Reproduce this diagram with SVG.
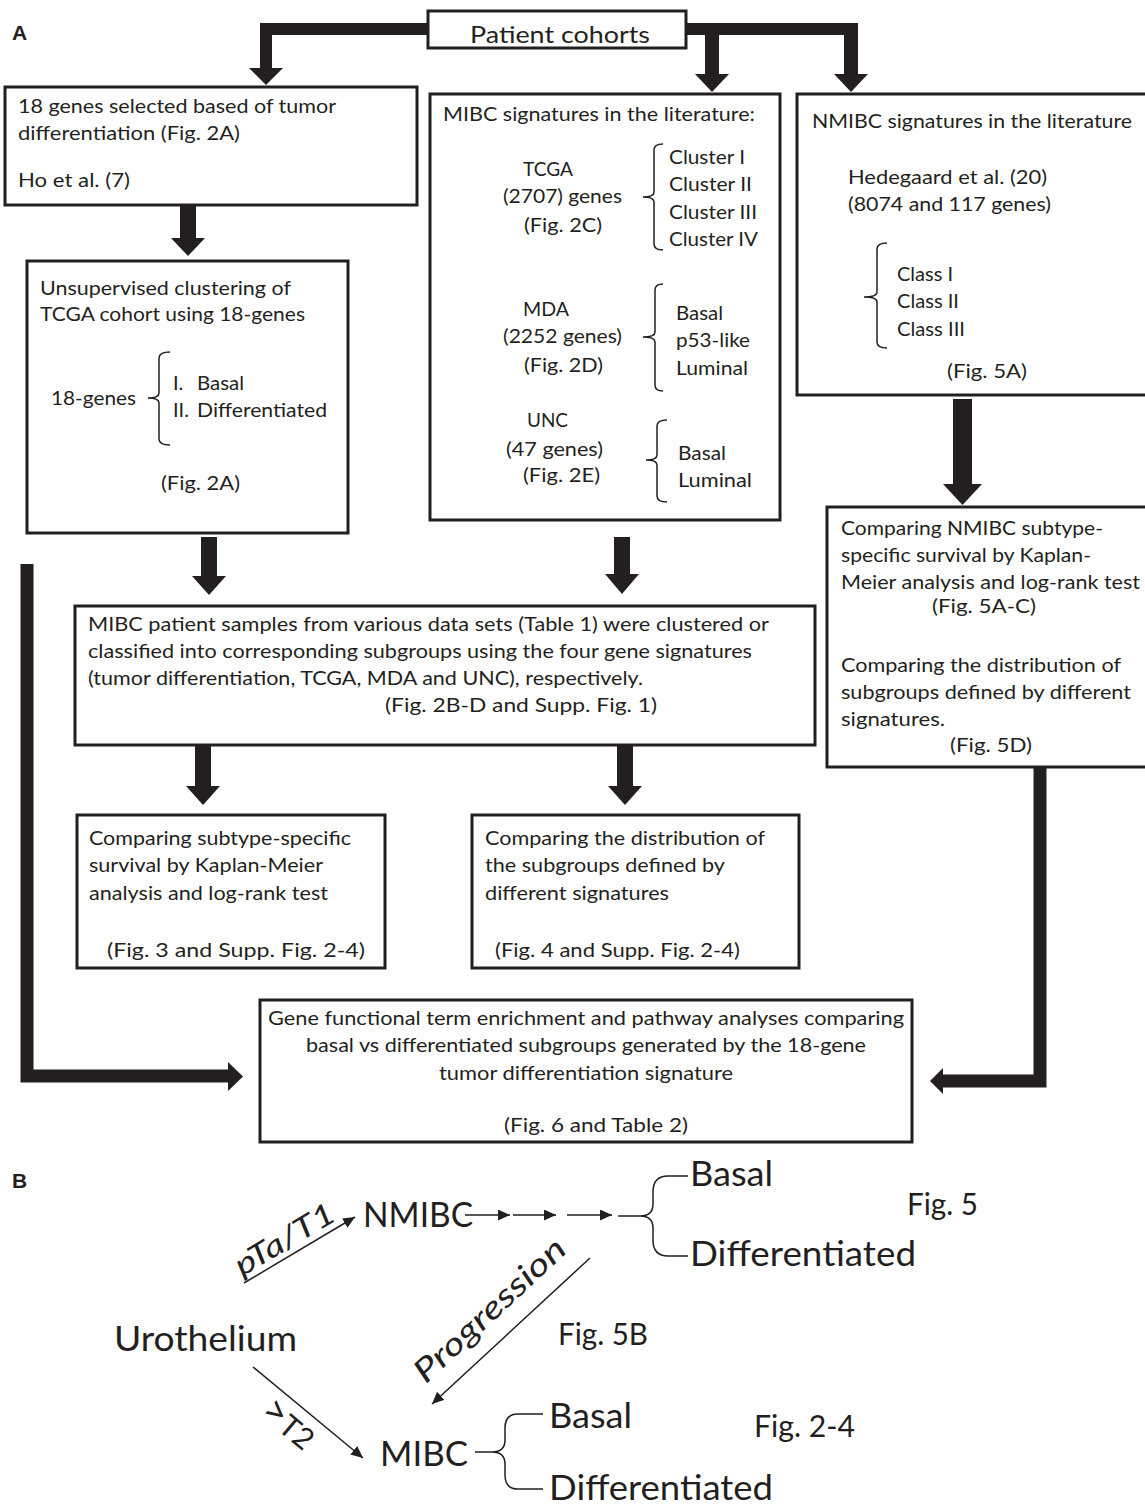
<svg xmlns="http://www.w3.org/2000/svg" width="1145" height="1507" viewBox="0 0 1145 1507">
<defs>
<style>
.t{font-family:Lato,'Open Sans','Liberation Sans',sans-serif;font-size:20px;fill:#231f20}
.big{font-size:34px}
.mid{font-size:30px}
.it{font-style:italic}
.lab{font-family:'Liberation Sans',Arial,sans-serif;font-weight:bold;font-size:21px;fill:#231f20}
.box{fill:#fff;stroke:#231f20;stroke-width:3}
.br{fill:none;stroke:#231f20;stroke-width:1.5}
.bar{fill:none;stroke:#231f20;stroke-linejoin:miter}
.head{fill:#231f20}
.thin{fill:none;stroke:#231f20;stroke-width:1.5}
</style>
<marker id="ah" viewBox="0 0 12 11" refX="12" refY="5.5" markerWidth="12" markerHeight="11" markerUnits="userSpaceOnUse" orient="auto">
<path d="M0,0 L12,5.5 L0,11 z" fill="#231f20"/>
</marker>
</defs>
<rect width="1145" height="1507" fill="#fff"/>
<text class="lab" x="12" y="40">A</text>
<text class="lab" x="12" y="1188">B</text>

<g id="cohorts">
<rect class="box" x="428" y="11" width="258" height="37"/>
<text class="t" style="font-size:24px" x="470" y="43" textLength="180" lengthAdjust="spacingAndGlyphs">Patient cohorts</text>
</g>

<g id="ho18">
<rect class="box" x="5" y="87" width="412" height="118"/>
<text class="t" x="18" y="113" textLength="318" lengthAdjust="spacingAndGlyphs">18 genes selected based of tumor</text>
<text class="t" x="18" y="140" textLength="222" lengthAdjust="spacingAndGlyphs">differentiation (Fig. 2A)</text>
<text class="t" x="18" y="187" textLength="112" lengthAdjust="spacingAndGlyphs">Ho et al. (7)</text>
</g>

<g id="unsup">
<rect class="box" x="27" y="261" width="321" height="272"/>
<text class="t" x="40" y="295" textLength="251" lengthAdjust="spacingAndGlyphs">Unsupervised clustering of</text>
<text class="t" x="40" y="321" textLength="265" lengthAdjust="spacingAndGlyphs">TCGA cohort using 18-genes</text>
<text class="t" x="51" y="405" textLength="85" lengthAdjust="spacingAndGlyphs">18-genes</text>
<path class="br" d="M170 352 Q159 352 159 358 L159 393 Q159 398 148 398 Q159 398 159 403 L159 439 Q159 445 170 445"/>
<text class="t" x="173" y="390">I.</text>
<text class="t" x="197" y="390" textLength="47" lengthAdjust="spacingAndGlyphs">Basal</text>
<text class="t" x="173" y="417">II.</text>
<text class="t" x="197" y="417" textLength="130" lengthAdjust="spacingAndGlyphs">Differentiated</text>
<text class="t" x="161" y="490" textLength="79" lengthAdjust="spacingAndGlyphs">(Fig. 2A)</text>
</g>

<g id="mibc-lit">
<rect class="box" x="430" y="94" width="350" height="426"/>
<text class="t" x="443" y="121" textLength="312" lengthAdjust="spacingAndGlyphs">MIBC signatures in the literature:</text>
<text class="t" x="523" y="176" textLength="50" lengthAdjust="spacingAndGlyphs">TCGA</text>
<text class="t" x="503" y="203" textLength="119" lengthAdjust="spacingAndGlyphs">(2707) genes</text>
<text class="t" x="524" y="232" textLength="78" lengthAdjust="spacingAndGlyphs">(Fig. 2C)</text>
<path class="br" d="M663 144 Q654 144 654 150 L654 192 Q654 197 643 197 Q654 197 654 202 L654 244 Q654 250 663 250"/>
<text class="t" x="669" y="164" textLength="76" lengthAdjust="spacingAndGlyphs">Cluster I</text>
<text class="t" x="669" y="191" textLength="83" lengthAdjust="spacingAndGlyphs">Cluster II</text>
<text class="t" x="669" y="219" textLength="88" lengthAdjust="spacingAndGlyphs">Cluster III</text>
<text class="t" x="669" y="246" textLength="89" lengthAdjust="spacingAndGlyphs">Cluster IV</text>
<text class="t" x="523" y="316" textLength="46" lengthAdjust="spacingAndGlyphs">MDA</text>
<text class="t" x="503" y="343" textLength="119" lengthAdjust="spacingAndGlyphs">(2252 genes)</text>
<text class="t" x="524" y="372" textLength="79" lengthAdjust="spacingAndGlyphs">(Fig. 2D)</text>
<path class="br" d="M663 284 Q655 284 655 290 L655 332 Q655 337 643 337 Q655 337 655 342 L655 385 Q655 391 663 391"/>
<text class="t" x="676" y="320" textLength="47" lengthAdjust="spacingAndGlyphs">Basal</text>
<text class="t" x="676" y="347" textLength="74" lengthAdjust="spacingAndGlyphs">p53-like</text>
<text class="t" x="676" y="375" textLength="72" lengthAdjust="spacingAndGlyphs">Luminal</text>
<text class="t" x="527" y="427" textLength="41" lengthAdjust="spacingAndGlyphs">UNC</text>
<text class="t" x="506" y="456" textLength="97" lengthAdjust="spacingAndGlyphs">(47 genes)</text>
<text class="t" x="523" y="482" textLength="77" lengthAdjust="spacingAndGlyphs">(Fig. 2E)</text>
<path class="br" d="M667 420 Q657 420 657 426 L657 455 Q657 460 646 460 Q657 460 657 465 L657 496 Q657 502 667 502"/>
<text class="t" x="678" y="460" textLength="48" lengthAdjust="spacingAndGlyphs">Basal</text>
<text class="t" x="678" y="487" textLength="74" lengthAdjust="spacingAndGlyphs">Luminal</text>
</g>

<g id="nmibc-lit">
<rect class="box" x="797" y="94" width="360" height="301"/>
<text class="t" x="812" y="128" textLength="320" lengthAdjust="spacingAndGlyphs">NMIBC signatures in the literature</text>
<text class="t" x="848" y="184" textLength="199" lengthAdjust="spacingAndGlyphs">Hedegaard et al. (20)</text>
<text class="t" x="848" y="211" textLength="203" lengthAdjust="spacingAndGlyphs">(8074 and 117 genes)</text>
<path class="br" d="M887 243 Q877 243 877 249 L877 292 Q877 297 864 297 Q877 297 877 302 L877 342 Q877 348 887 348"/>
<text class="t" x="897" y="281" textLength="56" lengthAdjust="spacingAndGlyphs">Class I</text>
<text class="t" x="897" y="308" textLength="62" lengthAdjust="spacingAndGlyphs">Class II</text>
<text class="t" x="897" y="336" textLength="68" lengthAdjust="spacingAndGlyphs">Class III</text>
<text class="t" x="947" y="378" textLength="80" lengthAdjust="spacingAndGlyphs">(Fig. 5A)</text>
</g>

<g id="nmibc-compare">
<rect class="box" x="827" y="507" width="330" height="260"/>
<text class="t" x="841" y="535" textLength="262" lengthAdjust="spacingAndGlyphs">Comparing NMIBC subtype-</text>
<text class="t" x="841" y="562" textLength="250" lengthAdjust="spacingAndGlyphs">specific survival by Kaplan-</text>
<text class="t" x="841" y="589" textLength="299" lengthAdjust="spacingAndGlyphs">Meier analysis and log-rank test</text>
<text class="t" x="932" y="613" textLength="104" lengthAdjust="spacingAndGlyphs">(Fig. 5A-C)</text>
<text class="t" x="841" y="672" textLength="280" lengthAdjust="spacingAndGlyphs">Comparing the distribution of</text>
<text class="t" x="841" y="699" textLength="290" lengthAdjust="spacingAndGlyphs">subgroups defined by different</text>
<text class="t" x="841" y="726" textLength="104" lengthAdjust="spacingAndGlyphs">signatures.</text>
<text class="t" x="950" y="752" textLength="82" lengthAdjust="spacingAndGlyphs">(Fig. 5D)</text>
</g>

<g id="mibc-samples">
<rect class="box" x="75" y="606" width="740" height="139"/>
<text class="t" x="88" y="631" textLength="681" lengthAdjust="spacingAndGlyphs">MIBC patient samples from various data sets (Table 1) were clustered or</text>
<text class="t" x="88" y="658" textLength="664" lengthAdjust="spacingAndGlyphs">classified into corresponding subgroups using the four gene signatures</text>
<text class="t" x="88" y="685" textLength="555" lengthAdjust="spacingAndGlyphs">(tumor differentiation, TCGA, MDA and UNC), respectively.</text>
<text class="t" x="385" y="712" textLength="272" lengthAdjust="spacingAndGlyphs">(Fig. 2B-D and Supp. Fig. 1)</text>
</g>

<g id="survival">
<rect class="box" x="77" y="815" width="308" height="153"/>
<text class="t" x="89" y="845" textLength="262" lengthAdjust="spacingAndGlyphs">Comparing subtype-specific</text>
<text class="t" x="89" y="872" textLength="234" lengthAdjust="spacingAndGlyphs">survival by Kaplan-Meier</text>
<text class="t" x="89" y="900" textLength="239" lengthAdjust="spacingAndGlyphs">analysis and log-rank test</text>
<text class="t" x="107" y="957" textLength="258" lengthAdjust="spacingAndGlyphs">(Fig. 3 and Supp. Fig. 2-4)</text>
</g>

<g id="distribution">
<rect class="box" x="472" y="815" width="327" height="153"/>
<text class="t" x="485" y="845" textLength="280" lengthAdjust="spacingAndGlyphs">Comparing the distribution of</text>
<text class="t" x="485" y="872" textLength="240" lengthAdjust="spacingAndGlyphs">the subgroups defined by</text>
<text class="t" x="485" y="900" textLength="184" lengthAdjust="spacingAndGlyphs">different signatures</text>
<text class="t" x="495" y="957" textLength="245" lengthAdjust="spacingAndGlyphs">(Fig. 4 and Supp. Fig. 2-4)</text>
</g>

<g id="enrichment">
<rect class="box" x="260" y="1000" width="652" height="142"/>
<text class="t" x="268" y="1025" textLength="636" lengthAdjust="spacingAndGlyphs">Gene functional term enrichment and pathway analyses comparing</text>
<text class="t" x="306" y="1052" textLength="560" lengthAdjust="spacingAndGlyphs">basal vs differentiated subgroups generated by the 18-gene</text>
<text class="t" x="439" y="1080" textLength="294" lengthAdjust="spacingAndGlyphs">tumor differentiation signature</text>
<text class="t" x="504" y="1132" textLength="184" lengthAdjust="spacingAndGlyphs">(Fig. 6 and Table 2)</text>
</g>

<g id="B-nmibc">
<text class="t big" x="363" y="1227" textLength="110" lengthAdjust="spacingAndGlyphs">NMIBC</text>
<text class="t big" x="690" y="1186" textLength="83" lengthAdjust="spacingAndGlyphs">Basal</text>
<text class="t big" x="690" y="1266" textLength="226" lengthAdjust="spacingAndGlyphs">Differentiated</text>
<path class="br" d="M688 1176 L668 1176 Q653 1176 653 1192 L653 1204 Q653 1216 640 1216 L618 1216 M640 1216 Q653 1216 653 1228 L653 1240 Q653 1256 668 1256 L688 1256"/>
<text class="t mid" x="907" y="1215" textLength="71" lengthAdjust="spacingAndGlyphs">Fig. 5</text>
</g>
<g id="B-urothelium">
<text class="t big" x="114" y="1351" textLength="183" lengthAdjust="spacingAndGlyphs">Urothelium</text>
</g>
<g id="B-fig5b">
<text class="t mid" x="558" y="1345" textLength="90" lengthAdjust="spacingAndGlyphs">Fig. 5B</text>
</g>
<g id="B-mibc">
<text class="t big" x="380" y="1466" textLength="88" lengthAdjust="spacingAndGlyphs">MIBC</text>
<path class="br" d="M543 1414 L518 1414 Q505 1414 505 1428 L505 1440 Q505 1452 492 1452 L475 1452 M492 1452 Q505 1452 505 1464 L505 1475 Q505 1489 518 1489 L543 1489"/>
<text class="t big" x="549" y="1428" textLength="83" lengthAdjust="spacingAndGlyphs">Basal</text>
<text class="t big" x="549" y="1500" textLength="224" lengthAdjust="spacingAndGlyphs">Differentiated</text>
<text class="t mid" x="754" y="1437" textLength="101" lengthAdjust="spacingAndGlyphs">Fig. 2-4</text>
</g>

<g id="connectors">
<path class="bar" stroke-width="12" d="M428 29 H266 V70"/>
<polygon class="head" points="249,68 283,68 266,85"/>
<path class="bar" stroke-width="12" d="M686 29 H851"/>
<path class="bar" stroke-width="14" d="M712 29 V76"/>
<polygon class="head" points="695,74 729,74 712,92"/>
<path class="bar" stroke-width="14" d="M851 23 V76"/>
<polygon class="head" points="834,74 868,74 851,92"/>

<path class="bar" stroke-width="16" d="M188 206 V240"/>
<polygon class="head" points="171,238 205,238 188,256"/>
<path class="bar" stroke-width="16" d="M209 537 V578"/>
<polygon class="head" points="192,576 226,576 209,595"/>
<path class="bar" stroke-width="16" d="M622 537 V576"/>
<polygon class="head" points="605,574 639,574 622,594"/>
<path class="bar" stroke-width="19" d="M962.5 399 V487"/>
<polygon class="head" points="943,484 982,484 962.5,505"/>
<path class="bar" stroke-width="16" d="M203 745 V788"/>
<polygon class="head" points="186,786 220,786 203,805"/>
<path class="bar" stroke-width="16" d="M625 745 V788"/>
<polygon class="head" points="608,786 642,786 625,805"/>

<path class="bar" stroke-width="13" d="M27 564 V1076 H229"/>
<polygon class="head" points="228,1062 228,1091 243,1076.5"/>
<path class="bar" stroke-width="13" d="M1040 767 V1081 H942"/>
<polygon class="head" points="943,1068 943,1094 930,1081"/>

<line class="thin" x1="244" y1="1283" x2="355" y2="1217" marker-end="url(#ah)"/>
<line class="thin" x1="465" y1="1215" x2="510" y2="1215" marker-end="url(#ah)"/>
<line class="thin" x1="513" y1="1215" x2="556" y2="1215" marker-end="url(#ah)"/>
<line class="thin" x1="567" y1="1215" x2="612" y2="1215" marker-end="url(#ah)"/>
<line class="thin" x1="590" y1="1258" x2="432" y2="1404" marker-end="url(#ah)"/>
<line class="thin" x1="253" y1="1367" x2="363" y2="1458" marker-end="url(#ah)"/>
<text class="t mid it" x="290" y="1248" text-anchor="middle" textLength="112" lengthAdjust="spacingAndGlyphs" transform="rotate(-31 290 1248)">pTa/T1</text>
<text class="t it" style="font-size:32px" x="497" y="1318" text-anchor="middle" textLength="195" lengthAdjust="spacingAndGlyphs" transform="rotate(-43 497 1318)">Progression</text>
<text class="t mid" x="281" y="1433" text-anchor="middle" transform="rotate(40 281 1433)"><tspan style="font-size:40px">&gt;</tspan>T2</text>
</g>
</svg>
